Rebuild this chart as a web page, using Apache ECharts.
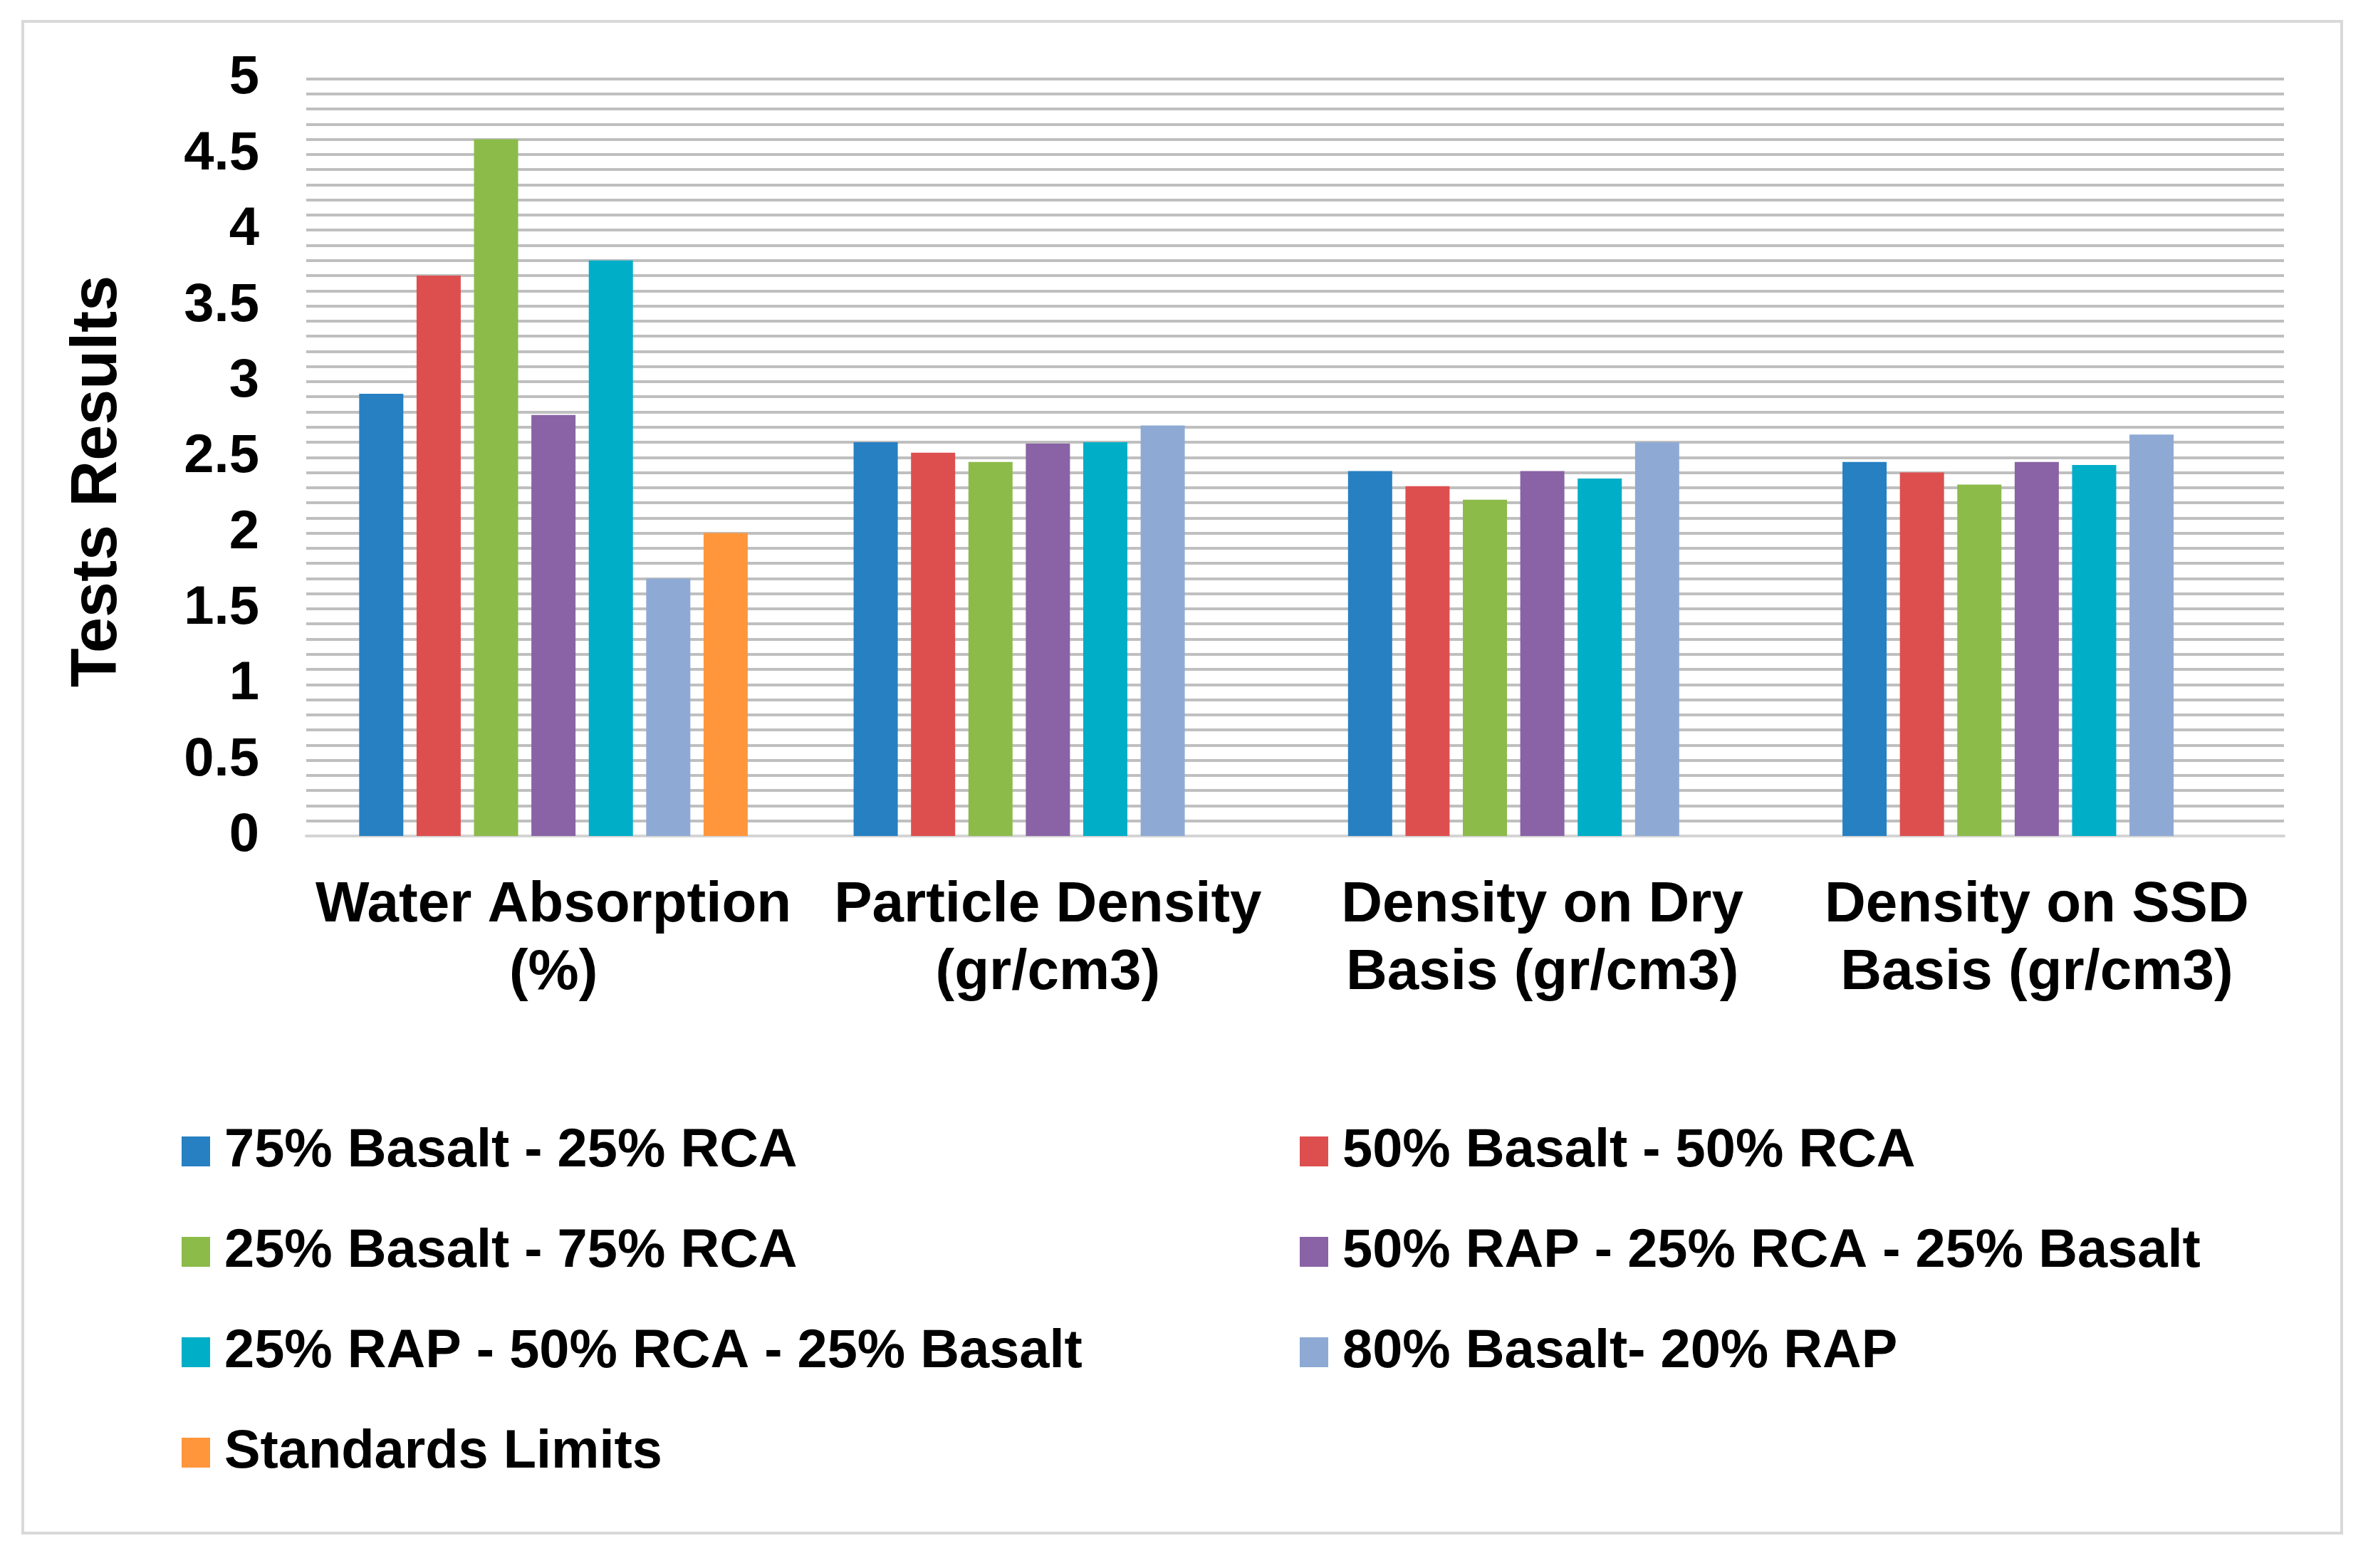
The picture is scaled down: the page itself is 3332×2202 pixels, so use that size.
<!DOCTYPE html>
<html>
<head>
<meta charset="utf-8">
<script src="https://cdn.jsdelivr.net/npm/echarts@6/dist/echarts.min.js"></script>
<style>
html,body{margin:0;padding:0;background:#fff;}
#chart{width:3332px;height:2202px;}
</style>
</head>
<body>
<div id="chart"></div>
<script>
const categories = ['Water Absorption\n(%)', 'Particle Density\n(gr/cm3)', 'Density on Dry\nBasis (gr/cm3)', 'Density on SSD\nBasis (gr/cm3)'];
const seriesNames = ['75% Basalt - 25% RCA', '50% Basalt - 50% RCA', '25% Basalt - 75% RCA', '50% RAP - 25% RCA - 25% Basalt', '25% RAP - 50% RCA - 25% Basalt', '80% Basalt- 20% RAP', 'Standards Limits'];
const basalt75 = [2.92, 2.60, 2.41, 2.47];
const basalt50 = [3.70, 2.53, 2.31, 2.40];
const basalt25 = [4.60, 2.47, 2.22, 2.32];
const rap50 = [2.78, 2.59, 2.41, 2.47];
const rap25 = [3.80, 2.60, 2.36, 2.45];
const basalt80 = [1.70, 2.71, 2.60, 2.65];
const standards = [2.00, null, null, null];
const colors = ['#2680C2', '#DD4F4F', '#8CBB4A', '#8963A5', '#00AEC7', '#8EAAD4', '#FF963C'];
const yTicks = { min: 0, max: 5, interval: 0.5 };

const seriesData = [basalt75, basalt50, basalt25, rap50, rap25, basalt80, standards];
const FONT = '"Liberation Sans", Arial, sans-serif';

const chart = echarts.init(document.getElementById('chart'), null, { renderer: 'canvas' });

const legendText = { fontFamily: FONT, fontWeight: 'bold', fontSize: 75.8, color: '#000', lineHeight: 80, padding: [0, 0, 0, 15] };

const option = {
  backgroundColor: '#ffffff',
  animation: false,
  color: colors,
  grid: { left: 430, right: 125, top: 110.5, bottom: 1028, containLabel: false },
  xAxis: {
    type: 'category',
    data: categories,
    axisTick: { show: false },
    axisLine: { show: true, lineStyle: { color: '#d4d4d4', width: 4 } },
    axisLabel: {
      interval: 0, margin: 50,
      fontFamily: FONT, fontWeight: 'bold', fontSize: 80, lineHeight: 95, color: '#000'
    }
  },
  yAxis: {
    type: 'value',
    min: yTicks.min, max: yTicks.max, interval: yTicks.interval,
    axisLine: { show: false },
    axisTick: { show: false },
    axisLabel: { margin: 66, fontFamily: FONT, fontWeight: 'bold', fontSize: 76, color: '#000' },
    splitLine: { show: true, lineStyle: { color: '#bfbfbf', width: 4 } },
    minorTick: { show: false, splitNumber: 5 },
    minorSplitLine: { show: true, lineStyle: { color: '#bfbfbf', width: 4 } }
  },
  legend: [
    {
      orient: 'vertical', left: 250, top: 1572, itemGap: 61,
      itemWidth: 40, itemHeight: 42, icon: 'rect',
      data: [seriesNames[0], seriesNames[2], seriesNames[4], seriesNames[6]],
      textStyle: legendText
    },
    {
      orient: 'vertical', left: 1820, top: 1572, itemGap: 61,
      itemWidth: 40, itemHeight: 42, icon: 'rect',
      data: [seriesNames[1], seriesNames[3], seriesNames[5]],
      textStyle: legendText
    }
  ],
  graphic: [
    {
      type: 'rect', silent: true, z: -1,
      shape: { x: 32, y: 30, width: 3256, height: 2123 },
      style: { fill: 'none', stroke: '#d9d9d9', lineWidth: 4 }
    },
    {
      type: 'text', x: 138, y: 676, rotation: Math.PI / 2,
      style: {
        text: 'Tests Results', fontFamily: FONT, fontWeight: 'bold', fontSize: 90,
        fill: '#000', align: 'center', verticalAlign: 'middle'
      }
    }
  ],
  series: seriesNames.map((name, i) => ({
    name: name,
    type: 'bar',
    data: seriesData[i],
    barWidth: 62,
    barGap: '30%',
    itemStyle: { color: colors[i] }
  }))
};

chart.setOption(option);
</script>
</body>
</html>
